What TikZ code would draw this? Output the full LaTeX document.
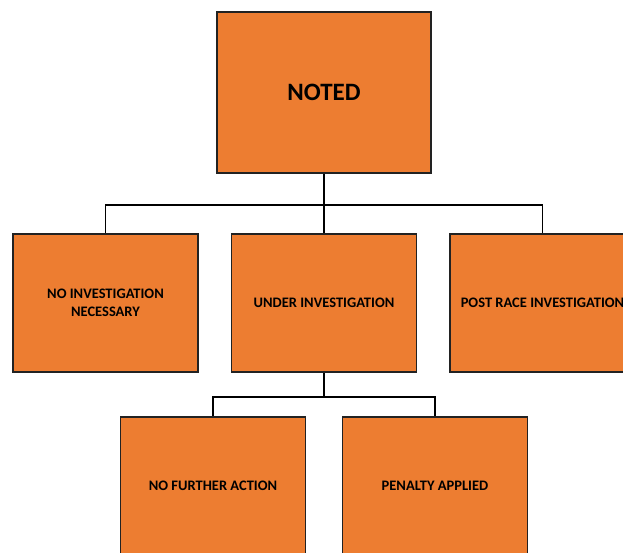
\documentclass[tikz,border=0pt]{standalone}
\usepackage{fontspec}
\setmainfont{Carlito}
\definecolor{boxorange}{HTML}{ED7D31}
\definecolor{boxline}{HTML}{222222}
\begin{document}
\begin{tikzpicture}[x=1pt,y=-1pt,
  box/.style={draw=boxline,line width=1.6pt,fill=boxorange,inner sep=0pt,
    minimum width=185pt,minimum height=138pt,align=center,
    font=\bfseries\fontsize{14.5}{17.5}\selectfont},
  link/.style={draw=black,line width=1.8pt}]
\useasboundingbox (0,0) rectangle (623,552);
\clip (0,0) rectangle (623,552);
\node[box,minimum width=214pt,minimum height=161pt,font=\bfseries\fontsize{25}{30}\selectfont] (noted) at (324,92.5) {NOTED};
\node[box] (noinv) at (105.5,303) {NO INVESTIGATION\\NECESSARY};
\node[box] (under) at (324,303) {UNDER INVESTIGATION};
\node[box] (post) at (542.5,303) {POST RACE INVESTIGATION};
\node[box] (nofa) at (213,486) {NO FURTHER ACTION};
\node[box] (pen) at (435,486) {PENALTY APPLIED};
\coordinate (j1) at (324,205);
\coordinate (j2) at (324,397);
\draw[link] (noted.south) -- (j1);
\draw[link] (j1) -| (noinv.north);
\draw[link] (j1) -| (post.north);
\draw[link] (j1) -- (under.north);
\draw[link] (under.south) -- (j2);
\draw[link] (j2) -| (nofa.north);
\draw[link] (j2) -| (pen.north);
\end{tikzpicture}
\end{document}
